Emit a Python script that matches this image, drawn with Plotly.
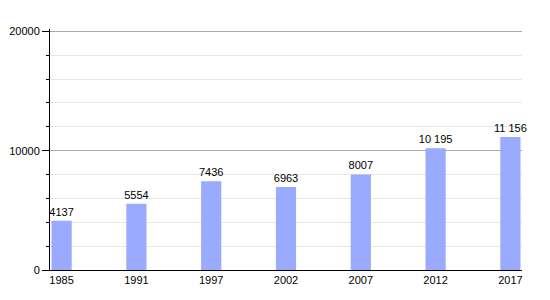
import plotly.graph_objects as go

years = ["1985", "1991", "1997", "2002", "2007", "2012", "2017"]
population = [4137, 5554, 7436, 6963, 8007, 10195, 11156]
labels = ["4137", "5554", "7436", "6963", "8007", "10 195", "11 156"]

FONT = "Liberation Sans, Arial, sans-serif"

fig = go.Figure(
    go.Bar(
        x=years,
        y=population,
        text=labels,
        textposition="outside",
        constraintext="none",
        textfont=dict(family=FONT, size=11, color="#000000"),
        marker=dict(color="#99aaff", line=dict(width=0)),
        width=0.27,
        cliponaxis=False,
        hoverinfo="x+y",
    )
)

fig.update_layout(
    width=550,
    height=300,
    margin=dict(l=50, r=28, t=29, b=30, autoexpand=False),
    paper_bgcolor="white",
    plot_bgcolor="white",
    showlegend=False,
    font=dict(family=FONT, size=11, color="#000000"),
)

fig.update_xaxes(
    type="category",
    range=[-0.155, 6.155],
    automargin=False,
    showline=True,
    linecolor="#000000",
    linewidth=1,
    showgrid=False,
    ticks="",
    ticklabelstandoff=0,
    tickfont=dict(family=FONT, size=11, color="#000000"),
)

fig.update_yaxes(
    range=[0, 20200],
    dtick=10000,
    automargin=False,
    showline=True,
    linecolor="#000000",
    linewidth=1,
    showgrid=True,
    gridcolor="#aaaaaa",
    gridwidth=1,
    ticks="outside",
    ticklen=7,
    tickcolor="#000000",
    tickformat="d",
    zeroline=False,
    tickfont=dict(family=FONT, size=11, color="#000000"),
    minor=dict(
        dtick=2000,
        ticks="outside",
        ticklen=3,
        tickcolor="#000000",
        showgrid=True,
        gridcolor="#e6e6e6",
        gridwidth=1,
    ),
)

fig.write_html("out.html")
